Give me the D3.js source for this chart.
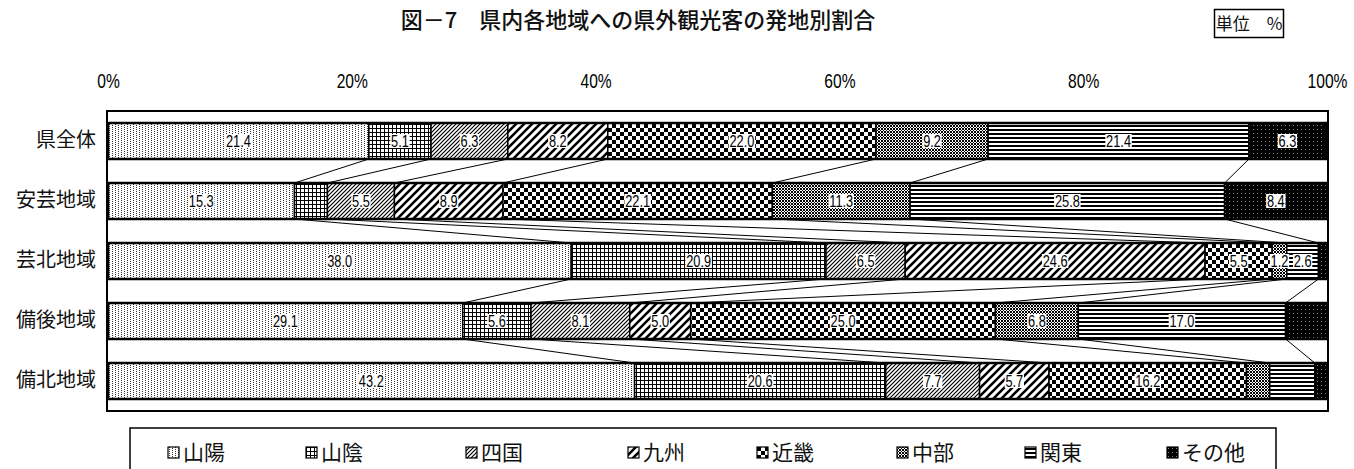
<!DOCTYPE html>
<html>
<head>
<meta charset="utf-8">
<script src="https://cdn.jsdelivr.net/npm/d3@7"></script>
<style>
  html, body { margin: 0; padding: 0; background: #fff; }
  svg { display: block; }
  .jp { font-family: "Noto Sans CJK JP", "Noto Sans", sans-serif; }
</style>
</head>
<body>
<svg id="chart" width="1354" height="469"></svg>
<script>
// Regions (rows) and visitor origins (stacked series)
const regions = ["県全体", "安芸地域", "芸北地域", "備後地域", "備北地域"];
const origins = ["山陽", "山陰", "四国", "九州", "近畿", "中部", "関東", "その他"];

// Share of visitors (%) by origin, one value per region
const sanyo   = [21.4, 15.3, 38.0, 29.1, 43.2];
const sanin   = [5.1, 2.7, 20.9, 5.6, 20.6];
const shikoku = [6.3, 5.5, 6.5, 8.1, 7.7];
const kyushu  = [8.2, 8.9, 24.6, 5.0, 5.7];
const kinki   = [22.0, 22.1, 5.5, 25.0, 16.2];
const chubu   = [9.2, 11.3, 1.2, 6.8, 1.9];
const kanto   = [21.4, 25.8, 2.6, 17.0, 3.7];
const other   = [6.3, 8.4, 0.7, 3.4, 1.0];

// Segments printed without a value label: [region index, origin]
const unlabeled = [[1, "山陰"], [2, "その他"], [3, "その他"], [4, "中部"], [4, "関東"], [4, "その他"]];

const tickValues = [0, 20, 40, 60, 80, 100];
const title = "図－7　県内各地域への県外観光客の発地別割合";
const unitText = "単位　%";

const seriesValues = [sanyo, sanin, shikoku, kyushu, kinki, chubu, kanto, other];

const rows = regions.map((r, i) => {
  const o = { region: r };
  origins.forEach((k, j) => { o[k] = seriesValues[j][i]; });
  return o;
});
const stacked = d3.stack().keys(origins)(rows);

const svg = d3.select("#chart");
const NUM_FONT = "Liberation Sans, Arial, sans-serif";

// ---- fill patterns ----
const defs = svg.append("defs");
function pattern(id, w, h, draw) {
  const p = defs.append("pattern").attr("id", id).attr("patternUnits", "userSpaceOnUse")
    .attr("width", w).attr("height", h);
  draw(p);
}
function dot(p, x, y, c) {
  p.append("rect").attr("x", x).attr("y", y).attr("width", 1).attr("height", 1).attr("fill", c);
}
// 山陽: sparse dots
pattern("p0", 6, 4, p => {
  p.append("rect").attr("width", 6).attr("height", 4).attr("fill", "#fff");
  [[1, 0], [1, 2], [4, 1], [4, 3]].forEach(([x, y]) => dot(p, x, y, "#333"));
});
// 山陰: fine grid
pattern("p1", 4, 4, p => {
  p.append("rect").attr("width", 4).attr("height", 4).attr("fill", "#fff");
  p.append("rect").attr("x", 0).attr("y", 0).attr("width", 4).attr("height", 1).attr("fill", "#000");
  p.append("rect").attr("x", 0).attr("y", 0).attr("width", 1).attr("height", 4).attr("fill", "#000");
});
// 四国: thin diagonal hatch
pattern("p2", 4, 4, p => {
  p.append("rect").attr("width", 4).attr("height", 4).attr("fill", "#fff");
  p.append("path").attr("d", "M-1,1 L1,-1 M0,4 L4,0 M3,5 L5,3").attr("stroke", "#000").attr("stroke-width", 1.2);
});
// 九州: wide diagonal stripes
pattern("p3", 8, 8, p => {
  p.append("rect").attr("width", 8).attr("height", 8).attr("fill", "#fff");
  p.append("path").attr("d", "M-2,2 L2,-2 M0,8 L8,0 M6,10 L10,6").attr("stroke", "#000").attr("stroke-width", 2.6);
});
// 近畿: checkerboard
pattern("p4", 8, 8, p => {
  p.append("rect").attr("width", 8).attr("height", 8).attr("fill", "#fff");
  p.append("rect").attr("x", 0).attr("y", 0).attr("width", 4).attr("height", 4).attr("fill", "#000");
  p.append("rect").attr("x", 4).attr("y", 4).attr("width", 4).attr("height", 4).attr("fill", "#000");
});
// 中部: dense speckled checker
pattern("p5", 3, 3, p => {
  p.append("rect").attr("width", 3).attr("height", 3).attr("fill", "#fff");
  [[0, 0], [2, 0], [1, 1], [0, 2], [2, 2]].forEach(([x, y]) => dot(p, x, y, "#000"));
});
// 関東: horizontal lines
pattern("p6", 4, 4, p => {
  p.append("rect").attr("width", 4).attr("height", 4).attr("fill", "#fff");
  p.append("rect").attr("x", 0).attr("y", 1).attr("width", 4).attr("height", 2).attr("fill", "#000");
});
// その他: black with faint dots
pattern("p7", 4, 4, p => {
  p.append("rect").attr("width", 4).attr("height", 4).attr("fill", "#000");
  dot(p, 1, 1, "#888");
});

// ---- scales ----
const plot = { left: 108, right: 1327, top: 111, bottom: 411 };
const x = d3.scaleLinear().domain([0, 100]).range([plot.left, plot.right]);
const y = d3.scaleBand().domain(regions).range([plot.top, plot.bottom]).paddingInner(0.4).paddingOuter(0.2);

// ---- title & unit box ----
svg.append("text").attr("class", "jp").attr("x", 638).attr("y", 28)
  .attr("text-anchor", "middle").attr("font-size", 22).attr("font-weight", 500)
  .attr("fill", "#111").text(title);
svg.append("rect").attr("x", 1214.5).attr("y", 9.5).attr("width", 69).attr("height", 28)
  .attr("fill", "#fff").attr("stroke", "#000").attr("stroke-width", 1.5);
svg.append("text").attr("class", "jp").attr("x", 1249).attr("y", 30)
  .attr("text-anchor", "middle").attr("font-size", 17).attr("fill", "#111").text(unitText);

// ---- percentage axis (condensed by a horizontal scale) ----
const xAxis = svg.append("g").attr("transform", `translate(0,88)`)
  .call(d3.axisTop(x).tickValues(tickValues).tickFormat(d => d + "%").tickSize(0).tickPadding(0));
xAxis.select(".domain").remove();
xAxis.selectAll("text").attr("font-size", 20).attr("font-family", NUM_FONT).attr("fill", "#000")
  .attr("transform", "scale(0.78,1)");

// ---- region axis ----
const yAxis = svg.append("g").attr("transform", `translate(96,0)`)
  .call(d3.axisLeft(y).tickSize(0).tickPadding(0));
yAxis.select(".domain").remove();
yAxis.selectAll("text").attr("font-size", 20).attr("font-family", "Noto Sans CJK JP, sans-serif").attr("fill", "#111");

// ---- plot frame ----
svg.append("rect").attr("x", plot.left - 1).attr("y", plot.top).attr("width", plot.right - plot.left + 2)
  .attr("height", plot.bottom - plot.top).attr("fill", "none").attr("stroke", "#000").attr("stroke-width", 2);

// ---- series connector lines between rows ----
const conn = svg.append("g").attr("stroke", "#000").attr("stroke-width", 1).attr("fill", "none");
stacked.slice(0, -1).forEach(s => {
  for (let i = 0; i < regions.length - 1; i++) {
    conn.append("line")
      .attr("x1", x(s[i][1])).attr("y1", y(regions[i]) + y.bandwidth())
      .attr("x2", x(s[i + 1][1])).attr("y2", y(regions[i + 1]));
  }
});

// ---- stacked bars ----
const layers = svg.append("g").selectAll("g").data(stacked).join("g")
  .attr("fill", (d, i) => `url(#p${i})`);
layers.selectAll("rect").data(d => d).join("rect")
  .attr("x", d => x(d[0])).attr("y", d => y(d.data.region))
  .attr("width", d => x(d[1]) - x(d[0])).attr("height", y.bandwidth())
  .attr("stroke", "#000").attr("stroke-width", 1.5);

// bar outlines
svg.append("g").selectAll("rect").data(regions).join("rect")
  .attr("x", x(0)).attr("y", d => y(d)).attr("width", x(100) - x(0)).attr("height", y.bandwidth())
  .attr("fill", "none").attr("stroke", "#000").attr("stroke-width", 2.5);

// ---- value labels ----
const isHidden = (ri, key) => unlabeled.some(([r, k]) => r === ri && k === key);
const labels = svg.append("g");
stacked.forEach(s => {
  s.forEach((d, ri) => {
    if (isHidden(ri, s.key)) return;
    const cx = (x(d[0]) + x(d[1])) / 2;
    const cy = y(d.data.region) + y.bandwidth() / 2;
    const g = labels.append("g").attr("transform", `translate(${cx},${cy}) scale(0.8,1)`);
    const t = g.append("text").attr("x", 0).attr("y", 6)
      .attr("text-anchor", "middle").attr("font-size", 16).attr("font-family", NUM_FONT)
      .attr("fill", "#000").text(d.data[s.key].toFixed(1));
    const bb = t.node().getBBox();
    g.insert("rect", "text").attr("x", bb.x - 1).attr("y", -7)
      .attr("width", bb.width + 2).attr("height", 14).attr("fill", "#fff");
  });
});

// ---- legend ----
svg.append("rect").attr("x", 130).attr("y", 428).attr("width", 1146).attr("height", 60)
  .attr("fill", "#fff").attr("stroke", "#000").attr("stroke-width", 1.5);
const legendX = [168, 306, 466, 628, 757, 897, 1025, 1167];
const leg = svg.append("g").selectAll("g").data(origins).join("g")
  .attr("transform", (d, i) => `translate(${legendX[i]},447)`);
leg.append("rect").attr("width", 11).attr("height", 11)
  .attr("fill", (d, i) => `url(#p${i})`).attr("stroke", "#000").attr("stroke-width", 1.2);
leg.append("text").attr("class", "jp").attr("x", 15).attr("y", 13)
  .attr("font-size", 21).attr("fill", "#111").text(d => d);
</script>
</body>
</html>
